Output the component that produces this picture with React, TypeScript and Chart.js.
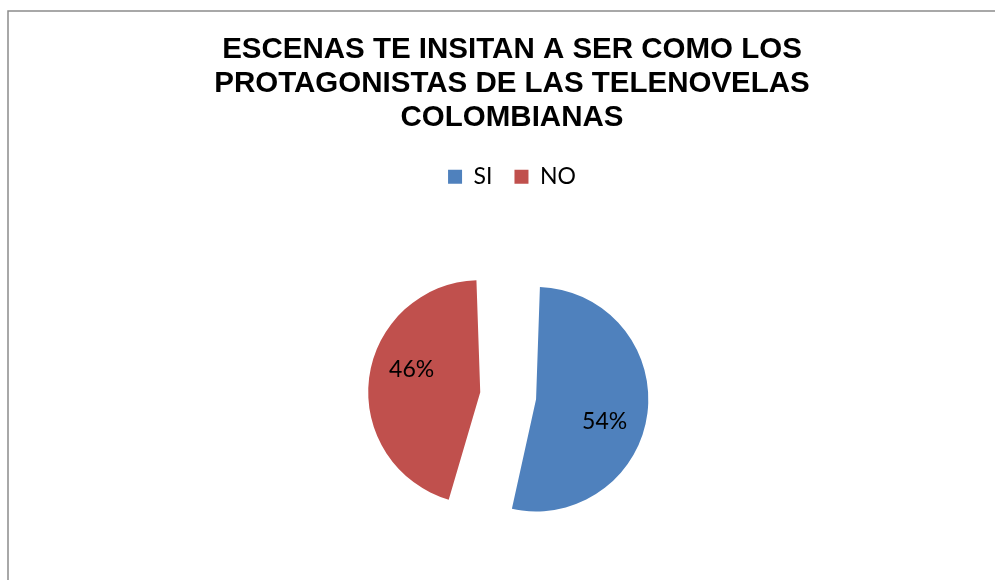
import React, { useEffect, useRef } from "react";
import { Chart, registerables } from "chart.js";

Chart.register(...registerables);

const TITLE_LINES = [
  "ESCENAS TE INSITAN A SER COMO LOS",
  "PROTAGONISTAS DE LAS TELENOVELAS",
  "COLOMBIANAS",
];
const CATEGORIES = ["SI", "NO"];
const VALUES = [54, 46];
const PERCENT_LABELS = ["54%", "46%"];
const COLORS = ["#4F81BD", "#C0504D"];
const OFFSETS = [97, 128];

const framePlugin = {
  id: "frame",
  beforeDraw(chart: any) {
    const ctx = chart.ctx;
    ctx.save();
    ctx.strokeStyle = "#8c8c8c";
    ctx.lineWidth = 1.5;
    ctx.beginPath();
    ctx.moveTo(8, chart.height);
    ctx.lineTo(8, 11);
    ctx.lineTo(chart.width, 11);
    ctx.stroke();
    ctx.restore();
  },
};

const labelPlugin = {
  id: "pctLabels",
  afterDatasetsDraw(chart: any) {
    const ctx = chart.ctx;
    const meta = chart.getDatasetMeta(0);
    ctx.save();
    ctx.font = "23px Lato";
    ctx.fillStyle = "#000";
    ctx.textAlign = "center";
    ctx.textBaseline = "middle";
    meta.data.forEach((arc: any, i: number) => {
      const p = arc.getProps(["x", "y", "startAngle", "endAngle", "outerRadius"], true);
      const t = (arc.options.offset || 0) / 4;
      const mid = (p.startAngle + p.endAngle) / 2;
      const ax = p.x + Math.cos(mid) * t;
      const ay = p.y + Math.sin(mid) * t;
      const ang = mid + 0.19;
      const d = p.outerRadius * 0.82;
      ctx.fillText(PERCENT_LABELS[i], ax + Math.cos(ang) * d, ay + Math.sin(ang) * d);
    });
    ctx.restore();
  },
};

export default function App() {
  const ref = useRef<HTMLCanvasElement | null>(null);
  useEffect(() => {
    if (!ref.current) return;
    const chart = new Chart(ref.current, {
      type: "pie",
      data: {
        labels: CATEGORIES,
        datasets: [
          {
            data: VALUES,
            backgroundColor: COLORS,
            borderWidth: 0,
            offset: OFFSETS,
            hoverOffset: 0,
          } as any,
        ],
      },
      options: {
        responsive: false,
        animation: false,
        radius: 88,
        layout: { padding: { left: 29, right: 0, top: 0, bottom: 0 } },
        plugins: {
          title: {
            display: true,
            text: TITLE_LINES,
            color: "#000",
            font: { family: "'Liberation Sans', Arial, sans-serif", size: 29.5, weight: "bold", lineHeight: 1.15 },
            padding: { top: 33, bottom: 8.5 },
          },
          legend: {
            display: true,
            position: "top",
            labels: {
              color: "#000",
              font: { family: "Lato", size: 23 },
              boxWidth: 14,
              boxHeight: 14,
              padding: 22,
            },
          },
          tooltip: { enabled: false },
        },
      } as any,
      plugins: [framePlugin, labelPlugin],
    });
    return () => chart.destroy();
  }, []);
  return (
    <div style={{ position: "fixed", left: 0, top: 0, width: 995, height: 580, overflow: "hidden", background: "#fff" }}>
      <canvas ref={ref} width={995} height={594} />
    </div>
  );
}
